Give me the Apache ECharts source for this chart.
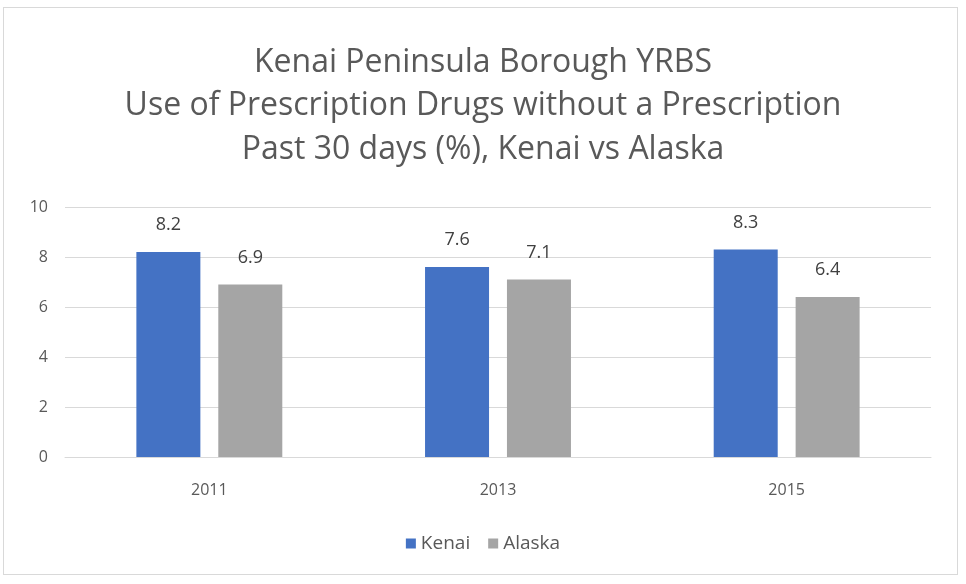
<!DOCTYPE html>
<html>
<head>
<meta charset="utf-8">
<script src="https://cdn.jsdelivr.net/npm/echarts@6/dist/echarts.min.js"></script>
<style>
  html, body { margin: 0; padding: 0; background: #fff; }
  #frame { position: absolute; left: 3px; top: 7px; width: 955px; height: 568px; border: 1px solid #d9d9d9; box-sizing: border-box; }
  #chart { position: absolute; left: 0; top: 0; width: 966px; height: 584px; }
</style>
</head>
<body>
<div id="frame"></div>
<div id="chart"></div>
<script>
const years = ['2011', '2013', '2015']
const kenai = [8.2, 7.6, 8.3]
const alaska = [6.9, 7.1, 6.4]
const yTicks = [0, 2, 4, 6, 8, 10]

const font = 'Open Sans'
const myChart = echarts.init(document.getElementById('chart'))

myChart.setOption({
  animation: false,
  title: {
    text: 'Kenai Peninsula Borough YRBS\nUse of Prescription Drugs without a Prescription\nPast 30 days (%), Kenai vs Alaska',
    left: 'center',
    top: 36,
    textStyle: {
      fontFamily: font,
      fontWeight: 'normal',
      fontSize: 32,
      lineHeight: 43.5,
      color: '#595959'
    }
  },
  legend: {
    bottom: 26,
    left: 'center',
    itemWidth: 10,
    itemHeight: 10,
    itemGap: 18,
    icon: 'rect',
    textStyle: { fontFamily: font, fontSize: 19, color: '#595959' },
    data: ['Kenai', 'Alaska']
  },
  grid: { left: 65, right: 35, top: 207, bottom: 127 },
  xAxis: {
    type: 'category',
    data: years,
    axisLine: { show: true, lineStyle: { color: '#d9d9d9' } },
    axisTick: { show: false },
    axisLabel: { fontFamily: font, fontSize: 16, color: '#595959', margin: 25 }
  },
  yAxis: {
    type: 'value',
    min: yTicks[0],
    max: yTicks[yTicks.length - 1],
    interval: 2,
    axisLine: { show: false },
    axisTick: { show: false },
    axisLabel: { fontFamily: font, fontSize: 16, color: '#595959', margin: 17 },
    splitLine: { lineStyle: { color: '#d9d9d9', width: 1 } }
  },
  series: [
    {
      name: 'Kenai',
      type: 'bar',
      data: kenai,
      barWidth: 64,
      barGap: '28%',
      itemStyle: { color: '#4472c4' },
      label: { show: true, position: 'top', distance: 18, fontFamily: font, fontSize: 18, color: '#404040' }
    },
    {
      name: 'Alaska',
      type: 'bar',
      data: alaska,
      barWidth: 64,
      itemStyle: { color: '#a5a5a5' },
      label: { show: true, position: 'top', distance: 18, fontFamily: font, fontSize: 18, color: '#404040' }
    }
  ]
})
</script>
</body>
</html>
